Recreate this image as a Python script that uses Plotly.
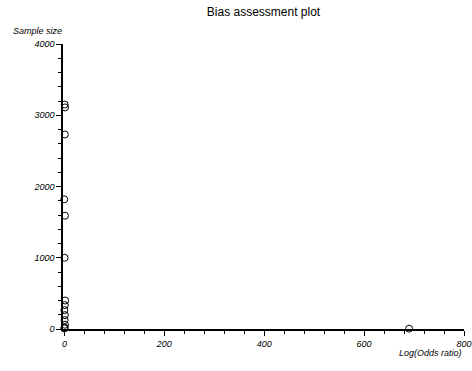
import plotly.graph_objects as go

# Study-level estimates: log odds ratio vs. sample size
log_odds_ratio = [0.4, 1.1, 0.7, -0.5, 0.9, 0.2, 1.3, 0.6, -0.2, 0.8, 0.3, 1.0, 0.5, -0.4, 690.0]
sample_size = [3150, 3110, 2730, 1820, 1590, 1000, 400, 335, 265, 195, 125, 60, 20, 8, 5]

x_ticks = [0, 200, 400, 600, 800]
y_ticks = [0, 1000, 2000, 3000, 4000]

font_family = "Liberation Sans, Arial, sans-serif"

fig = go.Figure()
fig.add_trace(go.Scatter(
    x=log_odds_ratio, y=sample_size, mode="markers",
    marker=dict(symbol="circle-open", size=7, color="black", line=dict(width=1)),
    cliponaxis=False, hoverinfo="x+y", showlegend=False,
))

axis_common = dict(
    showline=True, linecolor="black", linewidth=1.5,
    ticks="outside", ticklen=5, tickwidth=1.2, tickcolor="black",
    showgrid=False, zeroline=False, automargin=False,
    minor=dict(ticks="outside", ticklen=3, tickwidth=1, tickcolor="black"),
    tickfont=dict(family=font_family, size=9, color="black", style="italic"),
)

fig.update_xaxes(range=[-3, 800], tickvals=x_ticks, minor_dtick=40, **axis_common)
fig.update_yaxes(range=[0, 4000], tickvals=y_ticks, minor_dtick=200, **axis_common)

fig.update_layout(
    width=472, height=371,
    margin=dict(l=63, r=8, t=44, b=42),
    paper_bgcolor="white", plot_bgcolor="white",
    title=dict(text="Bias assessment plot", x=0.5, xref="paper", y=0.98, yanchor="top",
               font=dict(family=font_family, size=12, color="black")),
    annotations=[
        dict(text="Sample size", xref="paper", yref="paper", x=-0.13, y=1.022,
             xanchor="left", yanchor="bottom", showarrow=False,
             font=dict(family=font_family, size=9, color="black", style="italic")),
        dict(text="Log(Odds ratio)", xref="paper", yref="paper", x=1.0, y=-0.06,
             xanchor="right", yanchor="top", showarrow=False,
             font=dict(family=font_family, size=9, color="black", style="italic")),
    ],
)

fig.write_html("out.html")
